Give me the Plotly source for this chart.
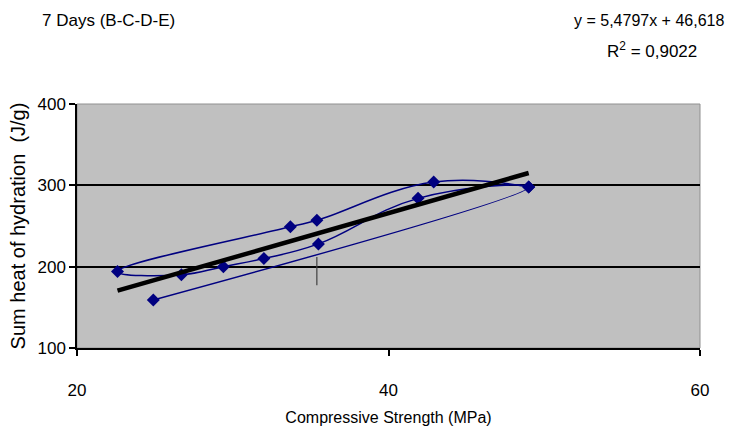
import plotly.graph_objects as go

# Data (order follows the connecting smoothed line)
strength = [24.9, 49.0, 41.9, 35.5, 32.0, 29.4, 26.7, 22.6, 33.7, 35.4, 42.9, 49.0]
heat     = [159, 298, 284, 228, 210, 200, 190, 194, 249, 257, 304, 298]

# Linear trend line (from the chart's equation)
slope = 5.4797
intercept = 46.618
r2 = 0.9022

# Small vertical mark in the plot
mark_x = [35.4, 35.4]
mark_y = [212, 177]

x_ticks = [20, 40, 60]
y_ticks = [100, 200, 300, 400]

trend_x = [min(strength), max(strength)]
trend_y = [slope * v + intercept for v in trend_x]

NAVY = "#000080"
FONT = "Liberation Sans, Arial, sans-serif"

fig = go.Figure()
fig.add_trace(go.Scatter(
    x=strength, y=heat, mode="lines+markers",
    line=dict(color=NAVY, width=1.5, shape="spline", smoothing=1.2),
    marker=dict(symbol="diamond", size=10, color=NAVY),
    showlegend=False, cliponaxis=False))
fig.add_trace(go.Scatter(
    x=trend_x, y=trend_y, mode="lines",
    line=dict(color="black", width=4.5), showlegend=False))
fig.add_trace(go.Scatter(
    x=mark_x, y=mark_y, mode="lines",
    line=dict(color="#404040", width=1.2), showlegend=False))

fig.update_layout(
    width=731, height=430,
    margin=dict(l=77, r=31, t=104, b=82),
    paper_bgcolor="white", plot_bgcolor="#C0C0C0",
    font=dict(family=FONT, color="black", size=15),
    xaxis=dict(range=[20, 60], tickvals=x_ticks, showgrid=False, zeroline=False,
               showline=True, linecolor="black", linewidth=1.5, automargin=False,
               ticks="outside", ticklen=6, tickcolor="black", tickwidth=1.5,
               ticklabelstandoff=20,
               tickfont=dict(family=FONT, size=17),
               title=dict(text="Compressive Strength (MPa)", standoff=13,
                          font=dict(family=FONT, size=16))),
    yaxis=dict(range=[100, 400], tickvals=y_ticks, showgrid=True,
               gridcolor="black", gridwidth=1.5, zeroline=False,
               showline=True, linecolor="black", linewidth=1.5, automargin=False,
               ticks="outside", ticklen=6, tickcolor="black", tickwidth=1.5,
               tickfont=dict(family=FONT, size=17),
               title=dict(text="Sum heat of hydration  (J/g)", standoff=6,
                          font=dict(family=FONT, size=20))),
    shapes=[dict(type="rect", xref="paper", yref="paper", x0=0, x1=1, y0=0, y1=1,
                 line=dict(color="#909090", width=1), layer="below")],
    annotations=[
        dict(text="7 Days (B-C-D-E)", xref="paper", yref="paper",
             x=(40 - 77) / 623, y=1 + (104 - 20) / 244, xanchor="left", yanchor="middle",
             showarrow=False, font=dict(family=FONT, size=17)),
        dict(text="y = %sx + %s" % (str(slope).replace(".", ","), str(intercept).replace(".", ",")),
             xref="paper", yref="paper",
             x=(726 - 77) / 623, y=1 + (104 - 20) / 244, xanchor="right", yanchor="middle",
             showarrow=False, font=dict(family=FONT, size=16)),
        dict(text="R<sup>2</sup> = %s" % str(r2).replace(".", ","),
             xref="paper", yref="paper",
             x=(605 - 77) / 623, y=1 + (104 - 50) / 244, xanchor="left", yanchor="middle",
             showarrow=False, font=dict(family=FONT, size=17)),
    ],
)

fig.write_html("out.html")
